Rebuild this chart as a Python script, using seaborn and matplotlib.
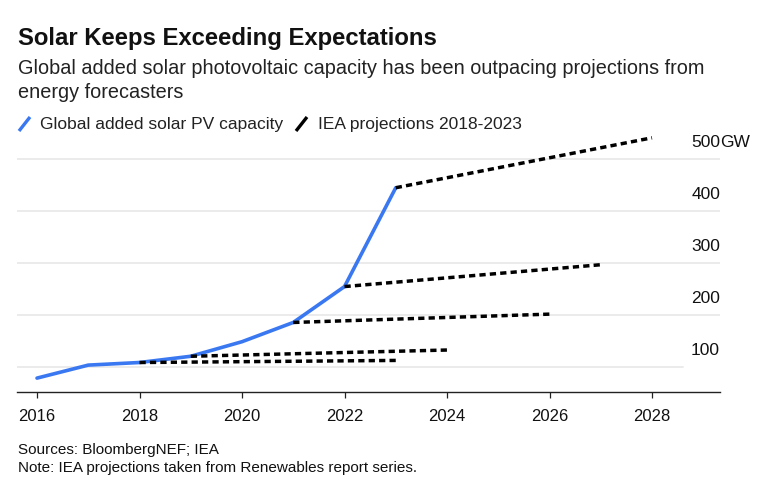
import matplotlib
matplotlib.use("Agg")
import matplotlib.pyplot as plt
import matplotlib.transforms as mtransforms
from matplotlib.lines import Line2D
import seaborn as sns
import pandas as pd

# ---- data ----
years = [2016, 2017, 2018, 2019, 2020, 2021, 2022, 2023]
actual_gw = [78, 103, 108, 120, 148, 185, 254, 444]

proj_start_years = [2018, 2019, 2021, 2022, 2023]
proj_end_years = [2023, 2024, 2026, 2027, 2028]
proj_start_gw = [108, 120, 185, 254, 444]
proj_end_gw = [112, 132, 201, 296, 540]

y_tick_values = [100, 200, 300, 400, 500]
y_tick_labels = ["100", "200", "300", "400", "500"]
x_tick_values = [2016, 2018, 2020, 2022, 2024, 2026, 2028]

title = "Solar Keeps Exceeding Expectations"
subtitle = "Global added solar photovoltaic capacity has been outpacing projections from\nenergy forecasters"
legend_labels = ["Global added solar PV capacity", "IEA projections 2018-2023"]
footer = "Sources: BloombergNEF; IEA\nNote: IEA projections taken from Renewables report series."

BLUE = "#3a78f2"
FONT = ["Liberation Sans", "DejaVu Sans"]

sns.set_theme(style="white")
plt.rcParams["font.family"] = FONT

actual_df = pd.DataFrame({"year": years, "gw": actual_gw})
rows = []
for i, (sy, ey, sv, ev) in enumerate(zip(proj_start_years, proj_end_years, proj_start_gw, proj_end_gw)):
    rows.append({"proj": i, "year": sy, "gw": sv})
    rows.append({"proj": i, "year": ey, "gw": ev})
proj_df = pd.DataFrame(rows)

W, H = 768, 498
fig = plt.figure(figsize=(W / 100, H / 100), dpi=100)
ax_l, ax_r, ax_b, ax_t = 17, 720, 392, 130
ax = fig.add_axes([ax_l / W, 1 - ax_b / H, (ax_r - ax_l) / W, (ax_b - ax_t) / H])

ylo, yhi = 51.3, 555
ax.set_ylim(ylo, yhi)
ax.set_xlim(2016 - 20 / 51.25, 2028 + 68 / 51.25)

# gridlines
for v in y_tick_values:
    xmax = 0.947 if v == 100 else 1.0
    ax.axhline(v, xmin=0, xmax=xmax, color="#e9e9e9", lw=1.3, zorder=0)

sns.lineplot(data=proj_df, x="year", y="gw", units="proj", estimator=None,
             color="black", lw=2.5, ax=ax, zorder=3,
             dashes=False, legend=False)
for ln in ax.lines[-len(proj_start_years):]:
    ln.set_dashes((1.8, 1.2))
    ln.set_dash_capstyle("butt")

sns.lineplot(data=actual_df, x="year", y="gw", color=BLUE, lw=2.6, ax=ax,
             zorder=2, legend=False)

for s in ["top", "right", "left"]:
    ax.spines[s].set_visible(False)
ax.spines["bottom"].set_color("#222222")
ax.spines["bottom"].set_linewidth(1.0)
ax.set_xticks(x_tick_values)
ax.set_xticklabels([str(x) for x in x_tick_values])
ax.tick_params(axis="x", direction="out", length=4.5, width=0.9, color="#222222",
               labelsize=12, pad=8, labelcolor="#111111", bottom=True)
ax.set_yticks([])
ax.set_xlabel("")
ax.set_ylabel("")

# right-side y labels above gridlines
trans = mtransforms.blended_transform_factory(ax.transAxes, ax.transData)
off = mtransforms.offset_copy(trans, fig=fig, x=0, y=16, units="dots")
for v, lab in zip(y_tick_values, y_tick_labels):
    ax.text(1.0, v, lab, transform=off, ha="right", va="center",
            fontsize=12.5, color="#111111")
ax.text(1.0, 500, "GW", transform=off, ha="left", va="center",
        fontsize=12.5, color="#111111")

# titles
fig.text(18 / W, 1 - 38 / H, title, fontsize=17.2, fontweight="bold",
         ha="left", va="center", color="#111111")
fig.text(18 / W, 1 - 80.5 / H, subtitle, fontsize=14.3, ha="left", va="center",
         color="#222222", linespacing=1.36)

# legend
def slash(x0, y0, color):
    fig.add_artist(Line2D([x0 / W, (x0 + 11) / W], [1 - (y0 + 7) / H, 1 - (y0 - 7) / H],
                          color=color, lw=2.4, solid_capstyle="butt"))

slash(19, 124, BLUE)
fig.text(40 / W, 1 - 124 / H, legend_labels[0], fontsize=12.5, ha="left", va="center",
         color="#222222")
slash(296, 124, "black")
fig.text(318 / W, 1 - 124 / H, legend_labels[1], fontsize=12.5, ha="left", va="center",
         color="#222222")

# footer
fig.text(18 / W, 1 - 459 / H, footer, fontsize=11, ha="left", va="center",
         color="#111111", linespacing=1.4)

fig.savefig("out.png", dpi=100)
